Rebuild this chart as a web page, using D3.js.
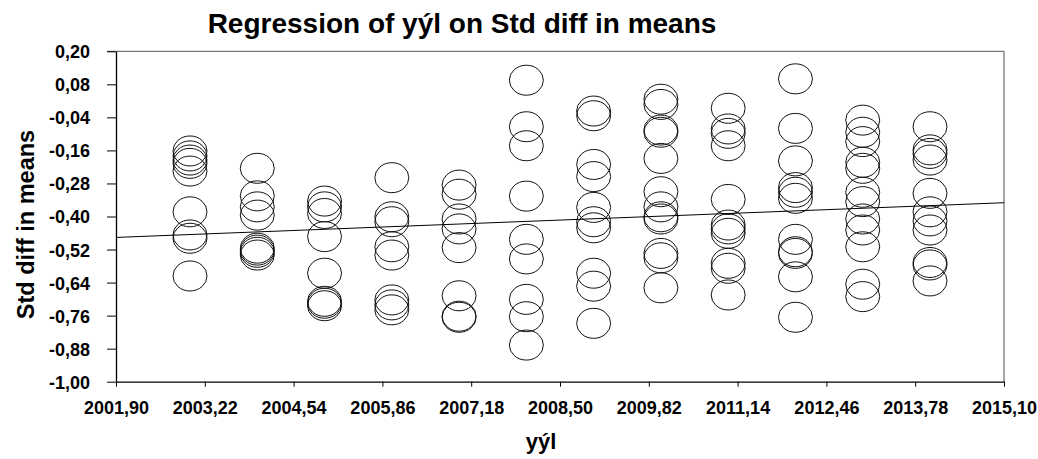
<!DOCTYPE html>
<html>
<head>
<meta charset="utf-8">
<script src="https://d3js.org/d3.v7.min.js"></script>
<style>
  body { margin: 0; background: #fff; }
  text { font-family: "Liberation Sans", Arial, sans-serif; font-weight: bold; fill: #000; }
</style>
</head>
<body>
<div id="chart"></div>
<script>
// study years (x) and the std diff in means read for each year (y)
var years = [2003, 2004, 2005, 2006, 2007, 2008, 2009, 2010, 2011, 2012, 2013, 2014];
var stdDiff = [
  [-0.162, -0.180, -0.195, -0.207, -0.235, -0.383, -0.467, -0.479, -0.616],
  [-0.225, -0.325, -0.365, -0.395, -0.515, -0.522, -0.530, -0.540],
  [-0.344, -0.365, -0.389, -0.473, -0.606, -0.708, -0.715, -0.724],
  [-0.259, -0.401, -0.419, -0.510, -0.540, -0.703, -0.721, -0.739],
  [-0.286, -0.319, -0.409, -0.445, -0.513, -0.688, -0.762, -0.766],
  [0.095, -0.074, -0.143, -0.326, -0.483, -0.554, -0.701, -0.764, -0.867],
  [-0.017, -0.034, -0.211, -0.255, -0.367, -0.419, -0.441, -0.606, -0.653, -0.788],
  [0.026, 0.007, -0.086, -0.094, -0.189, -0.310, -0.365, -0.401, -0.409, -0.534, -0.550, -0.659],
  [-0.007, -0.082, -0.098, -0.143, -0.338, -0.431, -0.445, -0.461, -0.570, -0.588, -0.685],
  [0.100, -0.080, -0.198, -0.295, -0.312, -0.334, -0.483, -0.528, -0.534, -0.619, -0.766],
  [-0.050, -0.094, -0.128, -0.203, -0.225, -0.312, -0.346, -0.409, -0.449, -0.510, -0.646, -0.691],
  [-0.074, -0.158, -0.171, -0.195, -0.316, -0.383, -0.416, -0.449, -0.567, -0.576, -0.634]
];
// fitted regression line, its two ends
var regX = [2001.90, 2015.10];
var regY = [-0.476, -0.350];

var xTicks = [2001.90, 2003.22, 2004.54, 2005.86, 2007.18, 2008.50, 2009.82, 2011.14, 2012.46, 2013.78, 2015.10];
var yTicks = [0.20, 0.08, -0.04, -0.16, -0.28, -0.40, -0.52, -0.64, -0.76, -0.88, -1.00];

var titleText = "Regression of yýl on Std diff in means";
var xLabel = "yýl";
var yLabel = "Std diff in means";

// flatten into points
var points = [];
years.forEach(function(yr, i) {
  stdDiff[i].forEach(function(v) { points.push({ year: yr, value: v }); });
});

var W = 1038, H = 459;
var margin = {top: 51.3, right: 34, bottom: 77.3, left: 116},
    width = W - margin.left - margin.right,
    height = H - margin.top - margin.bottom;

var loc = d3.formatLocale({decimal: ",", thousands: ".", grouping: [3], currency: ["", ""], minus: "-"});
var fmt = loc.format(".2f");

var svg = d3.select("#chart")
  .append("svg")
    .attr("width", W)
    .attr("height", H);

var g = svg.append("g")
    .attr("transform", "translate(" + margin.left + "," + margin.top + ")");

var x = d3.scaleLinear().domain([2001.90, 2015.10]).range([0, width]);
var y = d3.scaleLinear().domain([-1.00, 0.20]).range([height, 0]);

// frame top and right
g.append("line")
  .attr("x1", -9).attr("x2", width).attr("y1", 0).attr("y2", 0)
  .attr("stroke", "#777").attr("stroke-width", 1.3);
g.append("line")
  .attr("x1", width).attr("x2", width).attr("y1", 0).attr("y2", height)
  .attr("stroke", "#777").attr("stroke-width", 1.3);

// X axis
var xAxis = g.append("g")
  .attr("transform", "translate(0," + height + ")")
  .call(d3.axisBottom(x).tickValues(xTicks).tickFormat(fmt).tickSizeInner(5).tickSizeOuter(0).tickPadding(15));
// Y axis
var yAxis = g.append("g")
  .call(d3.axisLeft(y).tickValues(yTicks).tickFormat(fmt).tickSizeInner(9).tickSizeOuter(0).tickPadding(17));

[xAxis, yAxis].forEach(function(a) {
  a.select(".domain").attr("stroke", "#000").attr("stroke-width", 1.3);
  a.selectAll(".tick line").attr("stroke", "#000").attr("stroke-width", 1);
  a.selectAll("text")
    .style("font-family", "'Liberation Sans', Arial, sans-serif")
    .style("font-weight", "bold")
    .style("font-size", "18px")
    .attr("fill", "#000");
});
xAxis.selectAll("text").attr("dy", "0.71em");
yAxis.selectAll("text").attr("dy", "0.36em");

// points
g.selectAll("ellipse.pt")
  .data(points)
  .enter().append("ellipse")
    .attr("class", "pt")
    .attr("cx", function(d) { return x(d.year); })
    .attr("cy", function(d) { return y(d.value); })
    .attr("rx", 17)
    .attr("ry", 15)
    .attr("fill", "none")
    .attr("stroke", "#111")
    .attr("stroke-width", 1);

// regression line
g.append("line")
  .attr("x1", x(regX[0])).attr("y1", y(regY[0]))
  .attr("x2", x(regX[1])).attr("y2", y(regY[1]))
  .attr("stroke", "#000")
  .attr("stroke-width", 1);

// title
svg.append("text")
  .attr("x", 462)
  .attr("y", 33)
  .attr("text-anchor", "middle")
  .style("font-size", "28px")
  .text(titleText);

// x label
svg.append("text")
  .attr("x", 541)
  .attr("y", 449)
  .attr("text-anchor", "middle")
  .style("font-size", "22px")
  .text(xLabel);

// y label
svg.append("text")
  .attr("transform", "translate(34," + (margin.top + height / 2 + 8) + ") rotate(-90)")
  .attr("text-anchor", "middle")
  .style("font-size", "23.5px")
  .text(yLabel);
</script>
</body>
</html>
